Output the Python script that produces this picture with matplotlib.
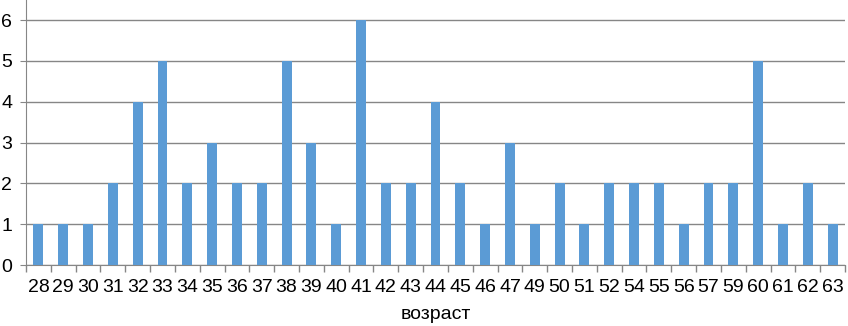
import matplotlib.pyplot as plt
import numpy as np

# ages (categories) and counts
ages = ["28", "29", "30", "31", "32", "33", "34", "35", "36", "37", "38",
        "39", "40", "41", "42", "43", "44", "45", "46", "47", "49", "50",
        "51", "52", "54", "55", "56", "57", "59", "60", "61", "62", "63"]
counts = [1, 1, 1, 2, 4, 5, 2, 3, 2, 2, 5,
          3, 1, 6, 2, 2, 4, 2, 1, 3, 1, 2,
          1, 2, 2, 2, 1, 2, 2, 5, 1, 2, 1]

plt.rcParams["font.family"] = ["Liberation Sans", "DejaVu Sans"]

fig = plt.figure(figsize=(8.48, 3.26), dpi=100)
ax = fig.add_axes([26 / 848, 61 / 326, 819 / 848, 265 / 326])

x = np.arange(len(ages))
ax.bar(x, counts, width=0.4, color="#5B9BD5", zorder=3)

ax.set_xlim(-0.5, len(ages) - 0.5)
ax.set_ylim(0, 6.49)
ax.set_yticks(range(0, 7))
ax.yaxis.grid(True, color="#868686", linewidth=1)
ax.set_axisbelow(True)

# category labels centred, tick marks between categories
ax.set_xticks(x)
ax.set_xticklabels(ages)
ax.set_xticks(np.arange(-0.5, len(ages)), minor=True)
ax.tick_params(axis="x", which="major", length=0, pad=10, labelsize=14)
ax.tick_params(axis="x", which="minor", length=5, color="#868686", width=1)
ax.tick_params(axis="y", length=4, color="#868686", pad=6, labelsize=14)

for s in ["top", "right"]:
    ax.spines[s].set_visible(False)
ax.spines["left"].set_color("#868686")
ax.spines["bottom"].set_color("#868686")

ax.set_xlabel("возраст", fontsize=14, labelpad=7)

fig.savefig("out.png", dpi=100)
